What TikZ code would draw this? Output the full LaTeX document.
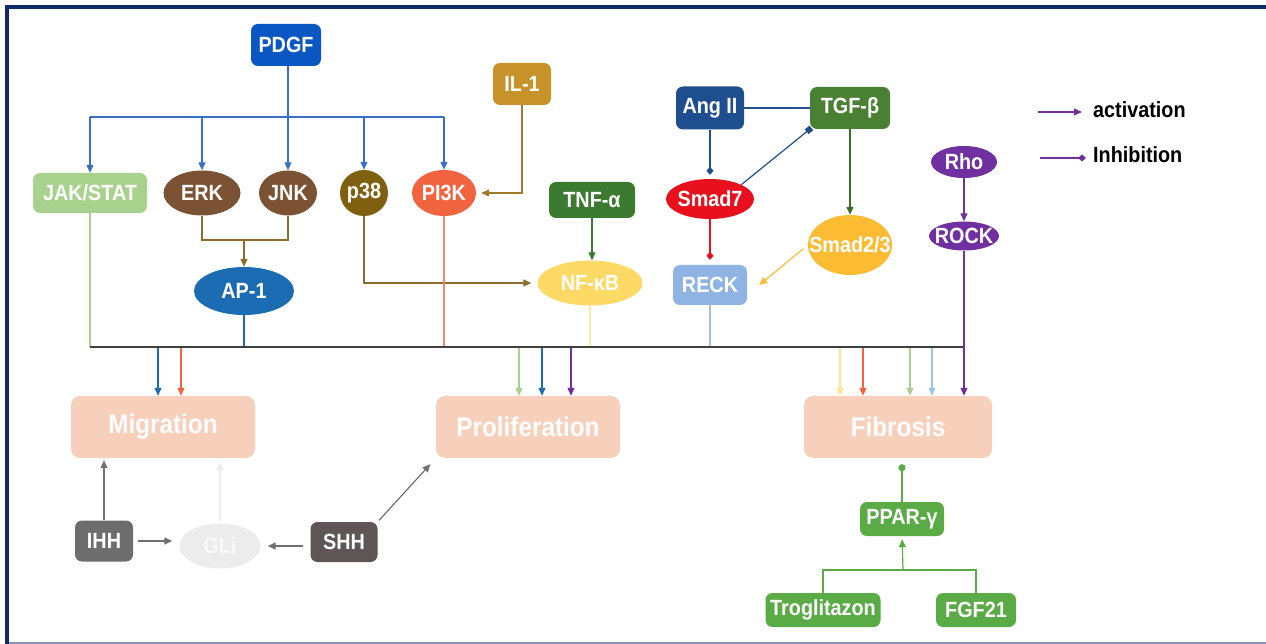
\documentclass[tikz,border=0pt]{standalone}
\usepackage{fontspec}
\setmainfont{Liberation Sans}[FakeStretch=0.9]
\usetikzlibrary{shapes.geometric,arrows.meta}
\newcommand\zw[1]{\makebox[0pt]{#1}}
\definecolor{navy}{HTML}{0F2A6B}
\definecolor{botline}{HTML}{8A93B8}
\definecolor{cpdgf}{HTML}{0A57C4}
\definecolor{cblue}{HTML}{3A6FC4}
\definecolor{cjak}{HTML}{A9D18E}
\definecolor{cerk}{HTML}{7B5233}
\definecolor{cp38}{HTML}{7F6010}
\definecolor{cpi3k}{HTML}{F26440}
\definecolor{cpi3kl}{HTML}{F08A6A}
\definecolor{cil}{HTML}{C8922A}
\definecolor{cilline}{HTML}{A07A2A}
\definecolor{cjoin}{HTML}{8D6E2C}
\definecolor{cap}{HTML}{1C6CB4}
\definecolor{ctnf}{HTML}{3B7A30}
\definecolor{cnfkb}{HTML}{FDD966}
\definecolor{cnfl}{HTML}{FDE9A0}
\definecolor{cang}{HTML}{1F4E8E}
\definecolor{ctgf}{HTML}{4A8033}
\definecolor{ctgfd}{HTML}{3E6B2A}
\definecolor{csmad}{HTML}{E8101C}
\definecolor{csmadtt}{HTML}{FBBC34}
\definecolor{creck}{HTML}{8FB4E3}
\definecolor{creckl}{HTML}{9DC3E6}
\definecolor{cpurple}{HTML}{7030A0}
\definecolor{cpeach}{HTML}{F6D0BB}
\definecolor{cihh}{HTML}{6D6D6D}
\definecolor{cshh}{HTML}{5E5555}
\definecolor{cgli}{HTML}{ECECEC}
\definecolor{cglit}{HTML}{F9F9F9}
\definecolor{cgray}{HTML}{707070}
\definecolor{cgreen}{HTML}{5AAB45}
\definecolor{cbus}{HTML}{404040}
\definecolor{cyel}{HTML}{FDE38A}
\begin{document}
\begin{tikzpicture}[x=1pt,y=-1pt,
  lbl/.style={font=\bfseries\fontsize{22}{24}\selectfont, text=white, inner sep=0pt},
  wh/.style 2 args={minimum width=#1pt, minimum height=#2pt},
  rb/.style={lbl, rectangle, rounded corners=7pt, fill=#1},
  el/.style={lbl, ellipse, fill=#1},
  big/.style={lbl, rectangle, rounded corners=9pt, fill=cpeach, font=\bfseries\fontsize{27}{29}\selectfont},
  ln/.style={line width=1.2pt, draw=#1},
  act/.style={ln=#1, -{Triangle[length=8pt,width=7pt]}},
  inh/.style={ln=#1, -{Diamond[length=8pt,width=7pt]}},
  sqr/.style={ln=#1, -{Square[length=6pt,width=6pt]}},
  circ/.style={ln=#1, -{Circle[length=7pt,width=7pt]}},
  leg/.style={font=\bfseries\fontsize{22}{24}\selectfont, text=black, inner sep=0pt, anchor=west}
]
\useasboundingbox (0,0) rectangle (1266,644);
\fill[white] (0,0) rectangle (1266,644);
\draw[botline, line width=1.5pt] (7,643) -- (1266,643);
\draw[navy, line width=4pt] (7,644) -- (7,7) -- (1266,7);

% nodes
\node[rb=cpdgf, wh={70}{42}] (pdgf) at (286,45) {PDGF};
\node[rb=cjak, wh={114}{40}] (jak) at (90,193) {JAK/STAT};
\node[el=cerk, wh={77}{45}] (erk) at (202,193) {\zw{ERK}};
\node[el=cerk, wh={58}{45}] (jnk) at (288,193) {\zw{JNK}};
\node[el=cp38, wh={48}{46}] (p38) at (364,193) {\zw{p38}};
\node[el=cpi3k, wh={64}{46}] (pi3k) at (444,193) {\zw{PI3K}};
\node[rb=cil, wh={58}{42}] (il1) at (522,84) {IL-1};
\node[rb=ctnf, wh={86}{36}] (tnf) at (592,200) {TNF-α};
\node[el=cnfkb, wh={105}{45}] (nfkb) at (590,283) {\zw{NF-κB}};
\node[el=cap, wh={100}{48}] (ap1) at (244,291) {\zw{AP-1}};
\node[rb=cang, wh={68}{43}] (ang) at (710,108) {Ang II};
\node[rb=ctgf, wh={80}{42}] (tgf) at (850,108) {TGF-β};
\node[el=csmad, wh={88}{40}] (smad7) at (710,199) {\zw{Smad7}};
\node[el=csmadtt, wh={84}{60}] (smad23) at (850,245) {\zw{Smad2/3}};
\node[rb=creck, wh={74}{40}] (reck) at (710,285) {RECK};
\node[el=cpurple, wh={66}{32}] (rho) at (964,162) {\zw{Rho}};
\node[el=cpurple, wh={70}{29}] (rock) at (964,236) {\zw{ROCK}};
\node[big, wh={184}{62}] (migr) at (163,427) {Migration};
\node[big, wh={184}{62}] (prolif) at (528,427) {Proliferation};
\node[big, wh={188}{62}] (fib) at (898,427) {Fibrosis};
\node[rb=cihh, wh={58}{41}] (ihh) at (104,541) {IHH};
\node[el=cgli, wh={81}{45}, text=cglit] (gli) at (220,546) {\zw{GLi}};
\node[rb=cshh, wh={67}{40}] (shh) at (344,542) {SHH};
\node[rb=cgreen, wh={84}{34}] (ppar) at (902,519) {PPAR-γ};
\node[rb=cgreen, wh={115}{34}] (trog) at (823,610) {Troglitazon};
\node[rb=cgreen, wh={80}{34}] (fgf) at (976,610) {FGF21};

% PDGF fan-out
\coordinate (pbL) at (90,117);
\coordinate (pbR) at (444,117);
\draw[ln=cblue] (pbL) -- (pbR);
\draw[act=cblue] (pdgf.south -| jnk.north) -- (jnk.north);
\draw[act=cblue] (pbL) -- (jak.north);
\draw[act=cblue] (pbL -| erk.north) -- (erk.north);
\draw[act=cblue] (pbL -| p38.north) -- (p38.north);
\draw[act=cblue] (pbR) -- (pi3k.north);

% IL-1 to PI3K
\draw[act=cilline, shorten >=5pt] (il1.south) |- (pi3k.east);

% ERK/JNK to AP-1
\coordinate (jj) at (244,240);
\draw[ln=cjoin] (erk.south) -- (erk.south |- jj) -- (jnk.south |- jj) -- (jnk.south);
\draw[act=cjoin] (jj) -- (ap1.north);

% p38 to NF-kB
\draw[act=cjoin, shorten >=6pt] (p38.south) |- (nfkb.west);
% TNF to NF-kB
\draw[act=ctnf] (tnf.south) -- (tnf.south |- nfkb.north);

% TGF block
\draw[ln=cang] (ang.east) -- (tgf.west);
\draw[inh=cang, shorten >=4pt] (ang.south) -- (smad7.north);
\draw[sqr=cang, shorten >=-2pt] (smad7.north east) -- (tgf.south west);
\draw[act=ctgfd] (tgf.south) -- (smad23.north);
\draw[inh=csmad, shorten >=5pt] (smad7.south) -- (reck.north);
\draw[act=csmadtt, shorten <=6pt] (smad23.west) -- ([xshift=12pt]reck.east);
\draw[act=cpurple] (rho.south) -- (rock.north);

% collecting bus
\coordinate (bL) at (90,347);
\coordinate (bR) at (964,347);
\draw[ln=cjak] (jak.south) -- (bL);
\draw[ln=cap] (ap1.south) -- (ap1.south |- bL);
\draw[ln=cpi3kl] (pi3k.south) -- (pi3k.south |- bL);
\draw[ln=cnfl] (nfkb.south) -- (nfkb.south |- bL);
\draw[ln=creckl] (reck.south) -- (reck.south |- bL);
\draw[line width=2pt, cbus] (bL) -- (bR);
\draw[act=cpurple] (rock.south) -- (rock.south |- fib.north);

% outputs from bus
\coordinate (m1) at (158,348);
\coordinate (m2) at (181,348);
\coordinate (p1) at (519,348);
\coordinate (p2) at (542,348);
\coordinate (p3) at (571,348);
\coordinate (f1) at (840,348);
\coordinate (f2) at (863,348);
\coordinate (f3) at (910,348);
\coordinate (f4) at (932,348);
\draw[act=cap] (m1) -- (m1 |- migr.north);
\draw[act=cpi3k] (m2) -- (m2 |- migr.north);
\draw[act=cjak] (p1) -- (p1 |- prolif.north);
\draw[act=cap] (p2) -- (p2 |- prolif.north);
\draw[act=cpurple] (p3) -- (p3 |- prolif.north);
\draw[act=cyel] (f1) -- (f1 |- fib.north);
\draw[act=cpi3k] (f2) -- (f2 |- fib.north);
\draw[act=cjak] (f3) -- (f3 |- fib.north);
\draw[act=creckl] (f4) -- (f4 |- fib.north);

% hedgehog block
\draw[act=cgray, shorten >=2pt] (ihh.north) -- (ihh.north |- migr.south);
\draw[act=cgli, shorten <=2pt, shorten >=4pt] (gli.north) -- (gli.north |- migr.south);
\draw[act=cgray, shorten <=5pt, shorten >=7pt] (ihh.east) -- (gli.west |- ihh.east);
\draw[act=cgray, shorten <=7pt, shorten >=7pt] (shh.west |- gli.east) -- (gli.east);
\draw[act=cgray, shorten <=2pt, shorten >=8pt] (shh.north east) -- (prolif.south west);

% PPAR block
\draw[circ=cgreen, shorten >=6pt] (ppar.north) -- (ppar.north |- fib.south);
\coordinate (tj) at (903,570);
\draw[ln=cgreen] (trog.north) |- (tj) -| (fgf.north);
\draw[act=cgreen, shorten >=3pt] (tj) -- (ppar.south);

% legend
\coordinate (la1) at (1038,112);
\coordinate (la2) at (1082,112);
\coordinate (li1) at (1040,158);
\coordinate (li2) at (1086,158);
\draw[act=cpurple] (la1) -- (la2);
\draw[inh=cpurple] (li1) -- (li2);
\node[leg] (lact) at (1093,110) {activation};
\node[leg] (linh) at (1093,155) {Inhibition};
\end{tikzpicture}
\end{document}
